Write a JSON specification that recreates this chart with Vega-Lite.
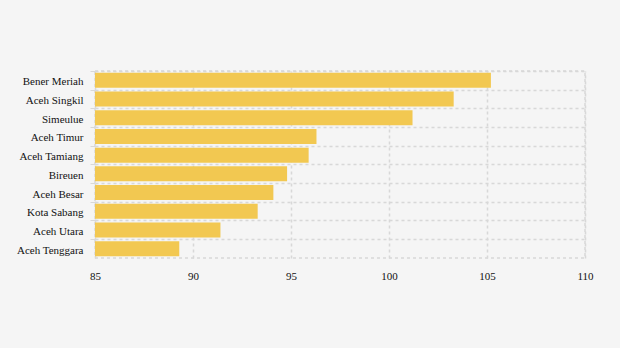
{
  "$schema": "https://vega.github.io/schema/vega-lite/v6.json",
  "autosize": "none",
  "width": 490,
  "height": 187,
  "padding": {"left": 95, "top": 71, "right": 35, "bottom": 90},
  "background": "#f5f5f5",
  "config": {
    "font": "Liberation Serif",
    "view": {"stroke": "#d8d8d8", "strokeDash": [3, 3], "strokeWidth": 1.5},
    "axis": {"labelFont": "Liberation Serif", "labelFontSize": 11, "labelColor": "#111", "title": null, "domain": false}
  },
  "data": {
    "values": [
      {"region": "Bener Meriah", "value": 105.2},
      {"region": "Aceh Singkil", "value": 103.3},
      {"region": "Simeulue", "value": 101.2},
      {"region": "Aceh Timur", "value": 96.3},
      {"region": "Aceh Tamiang", "value": 95.9},
      {"region": "Bireuen", "value": 94.8},
      {"region": "Aceh Besar", "value": 94.1},
      {"region": "Kota Sabang", "value": 93.3},
      {"region": "Aceh Utara", "value": 91.4},
      {"region": "Aceh Tenggara", "value": 89.3}
    ]
  },
  "mark": {"type": "bar", "color": "#f2c851", "clip": true},
  "encoding": {
    "y": {
      "field": "region",
      "type": "nominal",
      "sort": null,
      "scale": {"paddingInner": 0.2, "paddingOuter": 0.1},
      "axis": {
        "ticks": true,
        "tickSize": 5,
        "tickColor": "#d8d8d8",
        "labelPadding": 7,
        "labelOffset": 2,
        "grid": true,
        "gridColor": "#d8d8d8",
        "gridDash": [3, 3],
        "gridWidth": 1.5,
        "bandPosition": -0.1
      }
    },
    "x": {
      "field": "value",
      "type": "quantitative",
      "scale": {"domain": [85, 110], "zero": false, "nice": false},
      "axis": {
        "values": [85, 90, 95, 100, 105, 110],
        "ticks": false,
        "labelFlush": false,
        "labelPadding": 12,
        "grid": true,
        "gridColor": "#d8d8d8",
        "gridDash": [3, 3],
        "gridWidth": 1.5
      }
    }
  }
}
